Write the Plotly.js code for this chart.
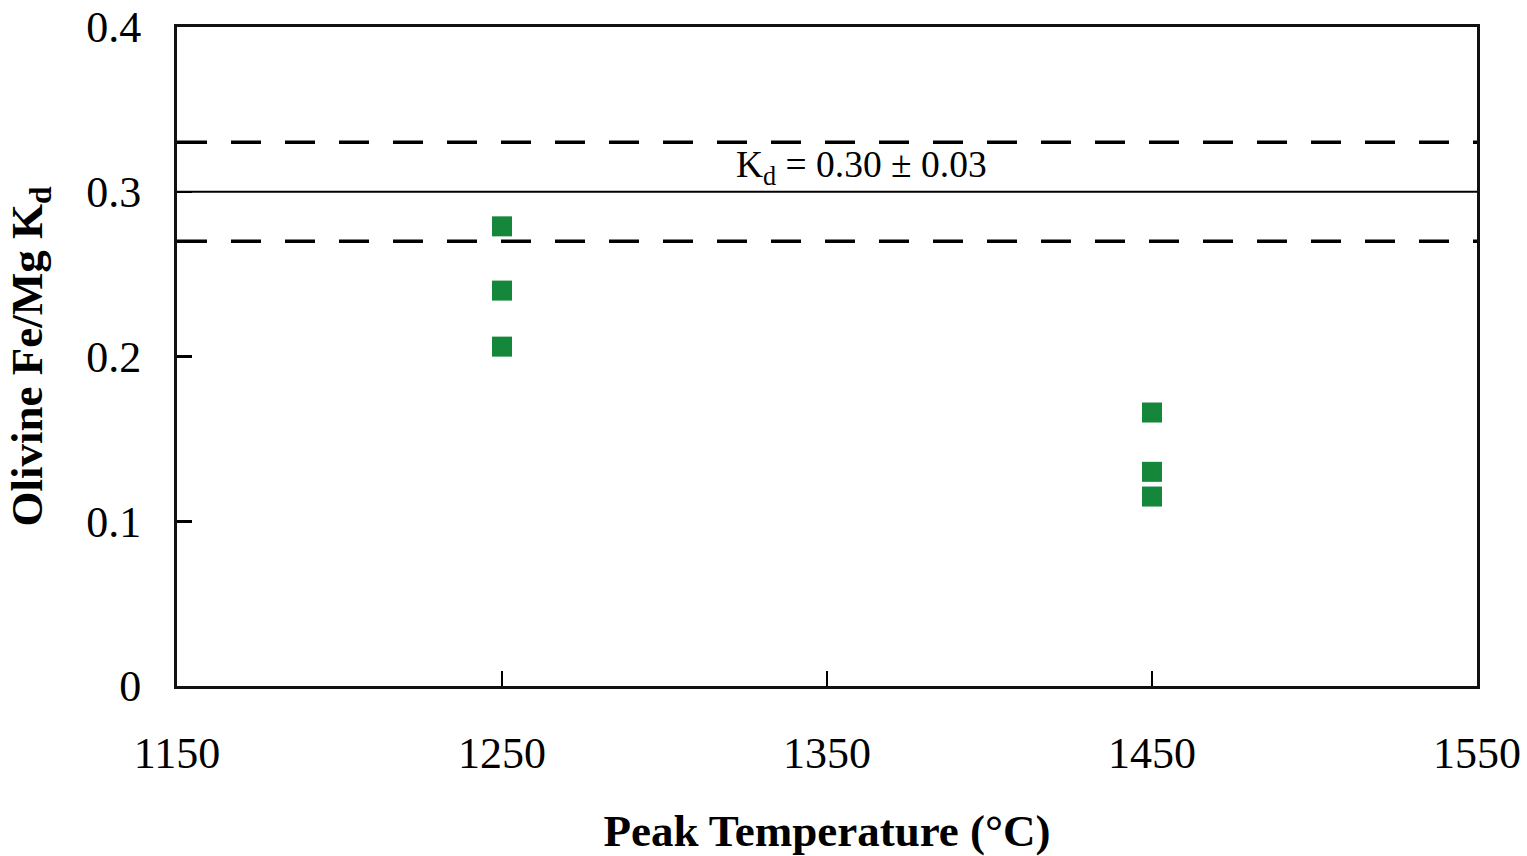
<!DOCTYPE html>
<html>
<head>
<meta charset="utf-8">
<script src="https://cdn.plot.ly/plotly-3.0.1.min.js"></script>
<style>html,body{margin:0;padding:0;background:#fff;}#chart{width:1527px;height:856px;}</style>
</head>
<body>
<div id="chart"></div>
<script>
// Data
const peakTemp = [1250, 1250, 1250, 1450, 1450, 1450];
const olivineKd = [0.279, 0.240, 0.206, 0.166, 0.130, 0.115];
const kdMean = 0.30;
const kdErr = 0.03;
const xTicks = [1150, 1250, 1350, 1450, 1550];
const yTicks = [0, 0.1, 0.2, 0.3, 0.4];
const yTickLabels = ['0', '0.1', '0.2', '0.3', '0.4'];

const font = 'Liberation Serif, Times New Roman, serif';

const trace = {
  x: peakTemp, y: olivineKd, type: 'scatter', mode: 'markers',
  marker: {symbol: 'square', size: 20, color: '#14873a'},
  hoverinfo: 'x+y', showlegend: false
};

const layout = {
  width: 1527, height: 856,
  margin: {l: 177, r: 50, t: 27, b: 170},
  paper_bgcolor: '#fff', plot_bgcolor: '#fff',
  font: {family: font, color: '#000', size: 44},
  xaxis: {
    range: [1150, 1550], tickvals: xTicks, ticktext: xTicks.map(String),
    ticks: 'inside', ticklen: 15, tickwidth: 2.5, tickcolor: '#000',
    showline: true, linewidth: 3, linecolor: '#111', mirror: true,
    showgrid: false, zeroline: false,
    ticklabelstandoff: 26,
    tickfont: {family: font, size: 44},
    title: {text: '<b>Peak Temperature (°C)</b>', font: {family: font, size: 45}, standoff: 38}
  },
  yaxis: {
    range: [0, 0.4], tickvals: yTicks, ticktext: yTickLabels,
    ticks: 'inside', ticklen: 15, tickwidth: 2.5, tickcolor: '#000',
    showline: true, linewidth: 3, linecolor: '#111', mirror: true,
    showgrid: false, zeroline: false,
    ticklabelstandoff: 24,
    tickfont: {family: font, size: 44},
    title: {text: '<b>Olivine Fe/Mg K<sub>d</sub></b>', font: {family: font, size: 45}, standoff: 30}
  },
  shapes: [
    {type: 'line', xref: 'paper', x0: 0, x1: 1, yref: 'y', y0: kdMean, y1: kdMean, line: {color: '#000', width: 2}},
    {type: 'line', xref: 'paper', x0: 0, x1: 1, yref: 'y', y0: kdMean + kdErr, y1: kdMean + kdErr, line: {color: '#000', width: 3.5, dash: '30px,24px'}},
    {type: 'line', xref: 'paper', x0: 0, x1: 1, yref: 'y', y0: kdMean - kdErr, y1: kdMean - kdErr, line: {color: '#000', width: 3.5, dash: '30px,24px'}}
  ],
  annotations: [{
    xref: 'x', yref: 'y', x: 1360.5, y: 0.315, showarrow: false,
    text: 'K<sub>d</sub> = ' + kdMean.toFixed(2) + ' ± ' + kdErr.toFixed(2),
    font: {family: font, size: 37.5, color: '#000'}
  }]
};

Plotly.newPlot('chart', [trace], layout, {displayModeBar: false, staticPlot: true});
</script>
</body>
</html>
